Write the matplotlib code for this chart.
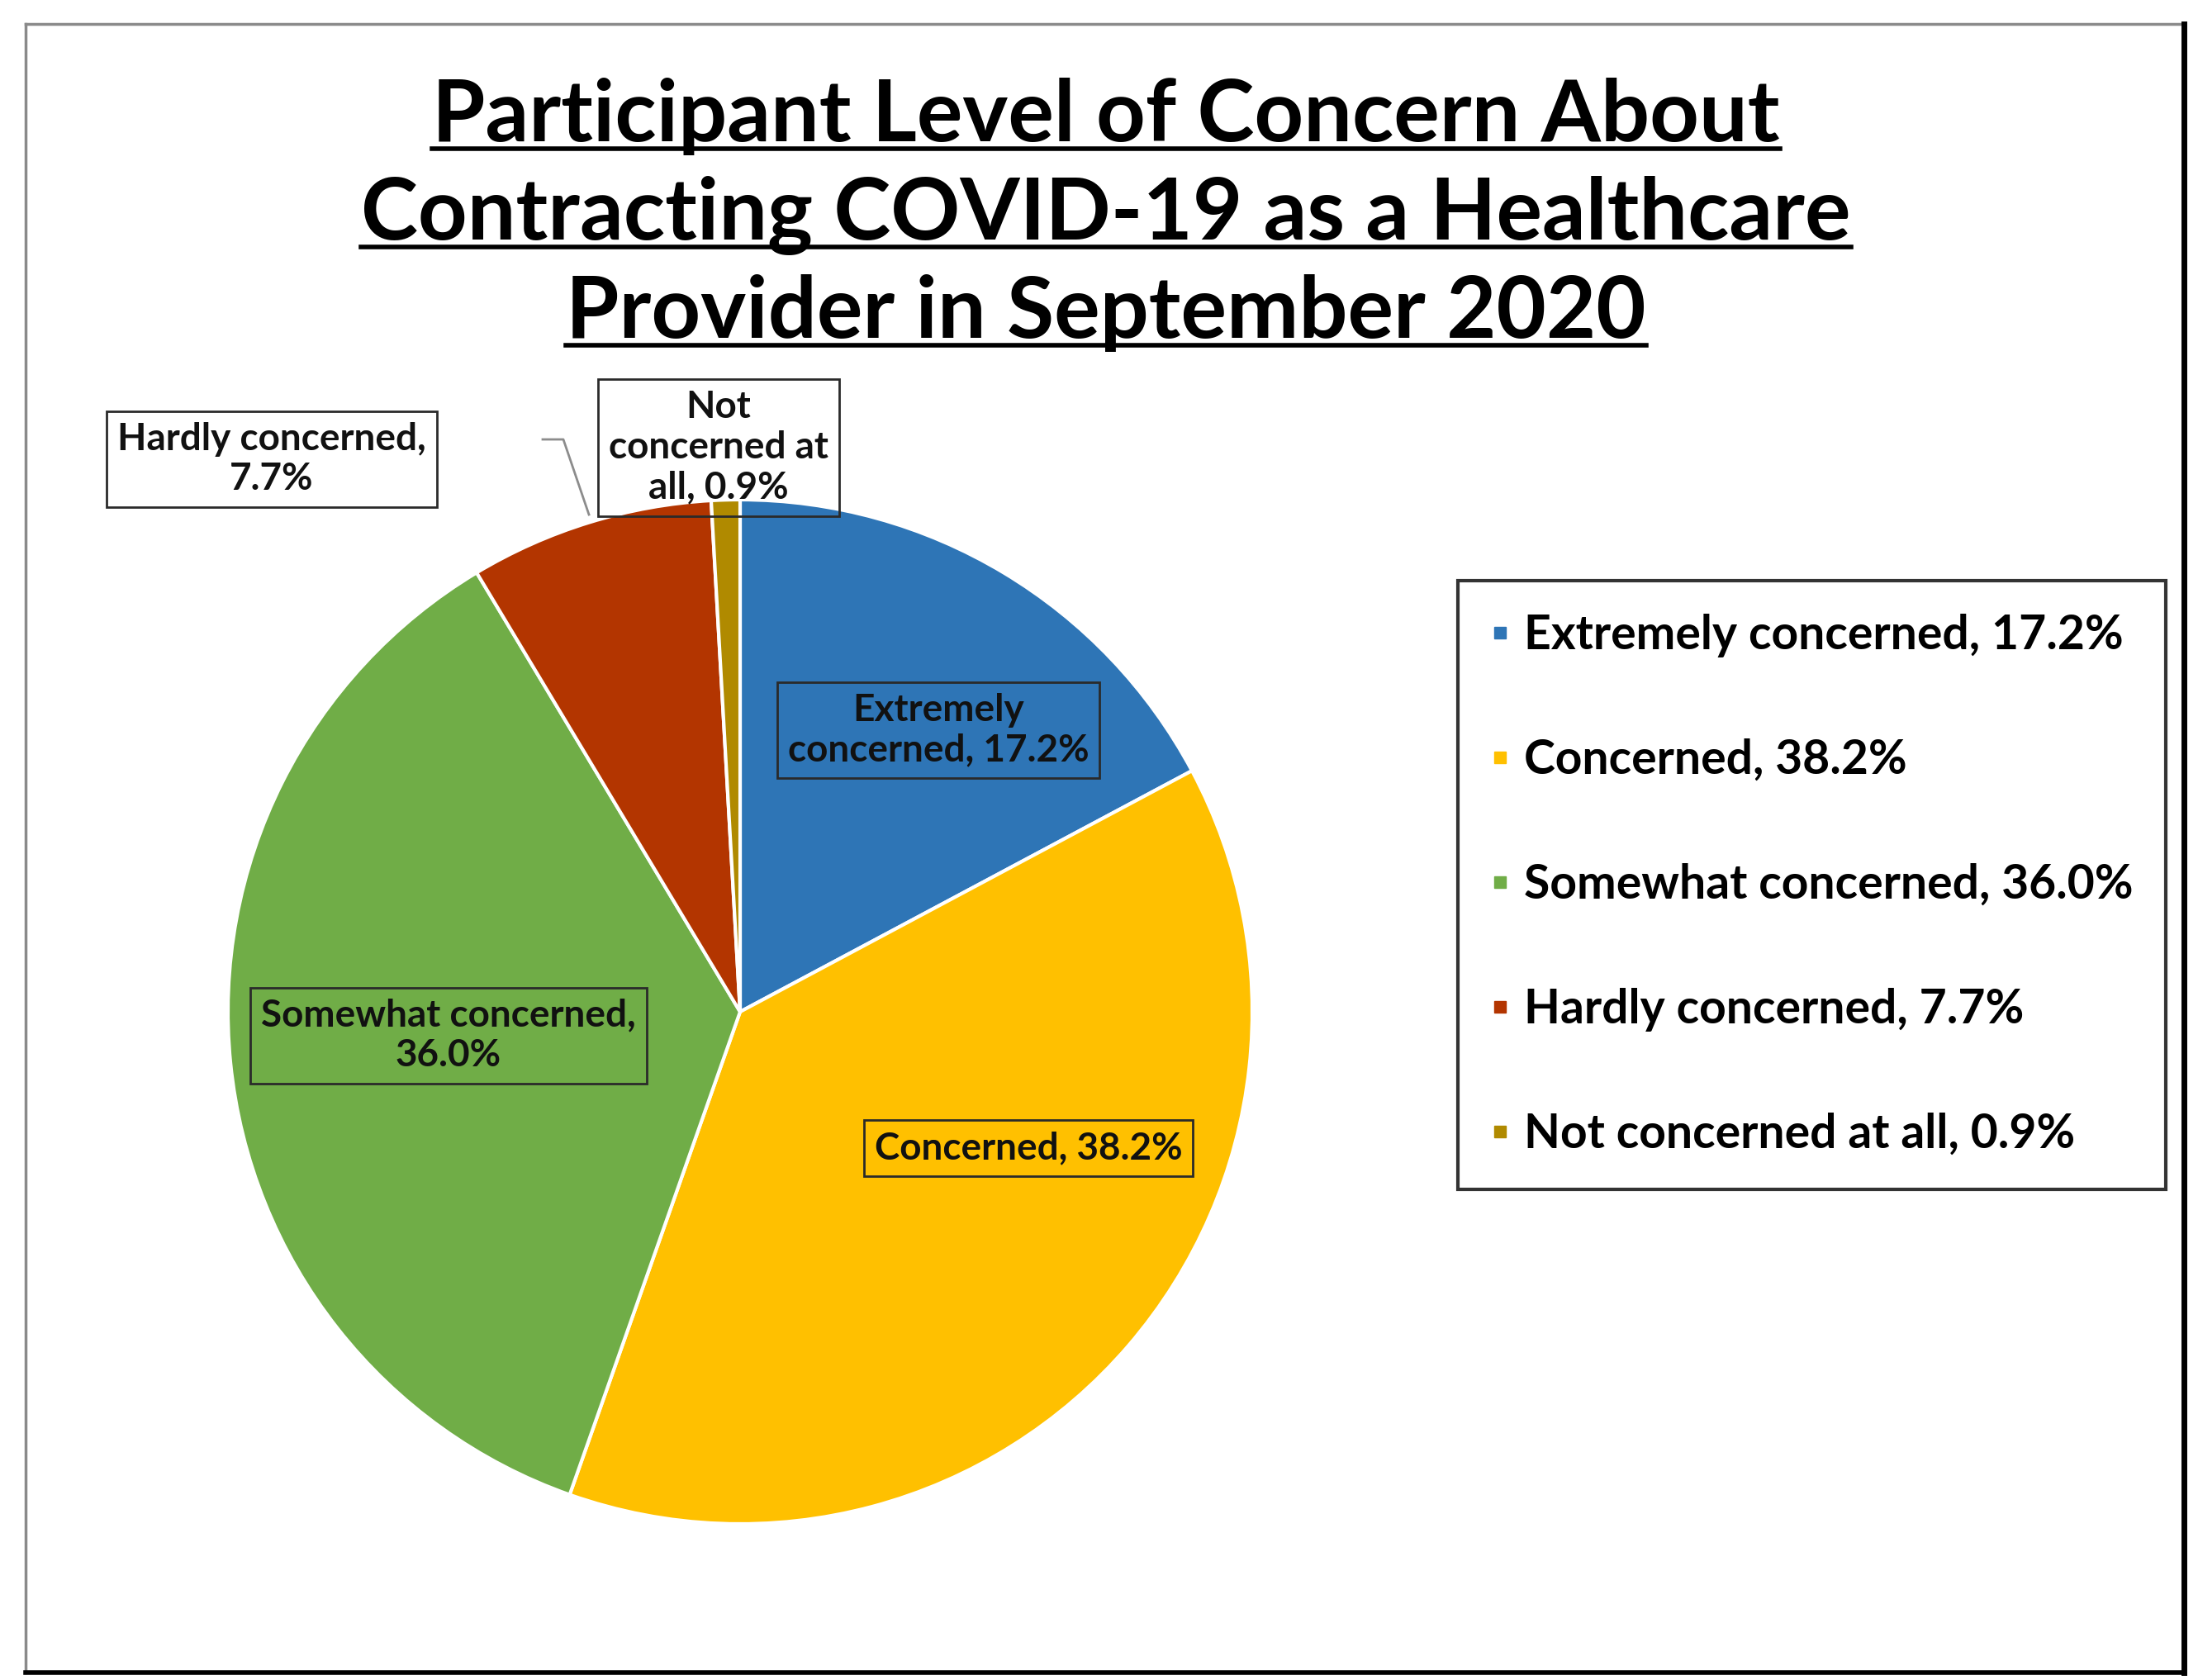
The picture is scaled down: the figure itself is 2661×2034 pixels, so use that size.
import matplotlib
matplotlib.use("Agg")
import matplotlib.pyplot as plt
from matplotlib.lines import Line2D

# data
categories = ["Extremely concerned", "Concerned", "Somewhat concerned",
              "Hardly concerned", "Not concerned at all"]
percents = [17.2, 38.2, 36.0, 7.7, 0.9]
colors = ["#2E75B6", "#FFC000", "#70AD47", "#B33500", "#B08A00"]
title_lines = ["Participant Level of Concern About",
               "Contracting COVID-19 as a Healthcare",
               "Provider in September 2020"]
# data label texts as wrapped in the chart
label_texts = ["Extremely\nconcerned, 17.2%",
               "Concerned, 38.2%",
               "Somewhat concerned,\n36.0%",
               "Hardly concerned,\n7.7%",
               "Not\nconcerned at\nall, 0.9%"]

W, H = 2661, 2034
plt.rcParams['font.family'] = ['Lato', 'DejaVu Sans']
plt.rcParams['font.weight'] = 'bold'

fig = plt.figure(figsize=(W / 100, H / 100), dpi=100)

def fx(px):
    return px / W

def fy(py):
    return 1 - py / H

# outer frame
fig.add_artist(Line2D([fx(31), fx(2644)], [fy(29), fy(29)], color="#8a8a8a", lw=2.5))
fig.add_artist(Line2D([fx(31), fx(31)], [fy(29), fy(2025)], color="#8a8a8a", lw=2.5))
fig.add_artist(Line2D([fx(2644), fx(2644)], [fy(29), fy(2025)], color="black", lw=5))
fig.add_artist(Line2D([fx(31), fx(2644)], [fy(2025), fy(2025)], color="black", lw=4))

# title, one text per line so each can be underlined
baselines = [171, 290, 409]
renderer = fig.canvas.get_renderer()
for line, yb in zip(title_lines, baselines):
    t = fig.text(fx(1339), fy(yb), line, ha="center", va="baseline",
                 fontsize=75, fontweight="bold", color="black")
    bb = t.get_window_extent(renderer=renderer)
    uy = fy(yb + 9)
    fig.add_artist(Line2D([bb.x0 / W, bb.x1 / W], [uy, uy], color="black", lw=4))

# pie
cx, cy, r = 896, 1225, 620
ax = fig.add_axes([fx(cx - r), fy(cy + r), 2 * r / W, 2 * r / H])
ax.pie(percents, colors=colors, startangle=90, counterclock=False, radius=1,
       wedgeprops=dict(edgecolor="white", linewidth=3))
ax.set_xlim(-1, 1)
ax.set_ylim(-1, 1)
ax.axis("off")

# data label boxes (positions in pixels)
label_pos = [(1136, 884), (1245, 1390), (543, 1254), (329, 556), (870, 542)]
for txt, (px, py) in zip(label_texts, label_pos):
    fig.text(fx(px), fy(py), txt, ha="center", va="center", fontsize=33,
             fontweight="bold", color="#111111", linespacing=1.2,
             bbox=dict(boxstyle="square,pad=0.28", fc="none", ec="#2a2a2a", lw=2))

# leader line for hardly concerned
fig.add_artist(Line2D([fx(657), fx(682), fx(713)], [fy(532), fy(532), fy(623)],
                      color="#8c8c8c", lw=2))

# legend
handles = [Line2D([], [], marker="s", linestyle="none", markersize=10,
                  markerfacecolor=c, markeredgecolor=c) for c in colors]
leg_labels = ["%s, %.1f%%" % (c, p) for c, p in zip(categories, percents)]
leg = fig.legend(handles, leg_labels, loc="upper left",
                 bbox_to_anchor=(fx(1765), fy(703)), frameon=True,
                 fancybox=False, edgecolor="black", fontsize=41,
                 handlelength=0.4, handletextpad=0.3, labelspacing=1.72,
                 borderpad=0.7, borderaxespad=0)
leg.get_frame().set_linewidth(3)
for t in leg.get_texts():
    t.set_fontweight("bold")

fig.savefig("out.png", dpi=100)
